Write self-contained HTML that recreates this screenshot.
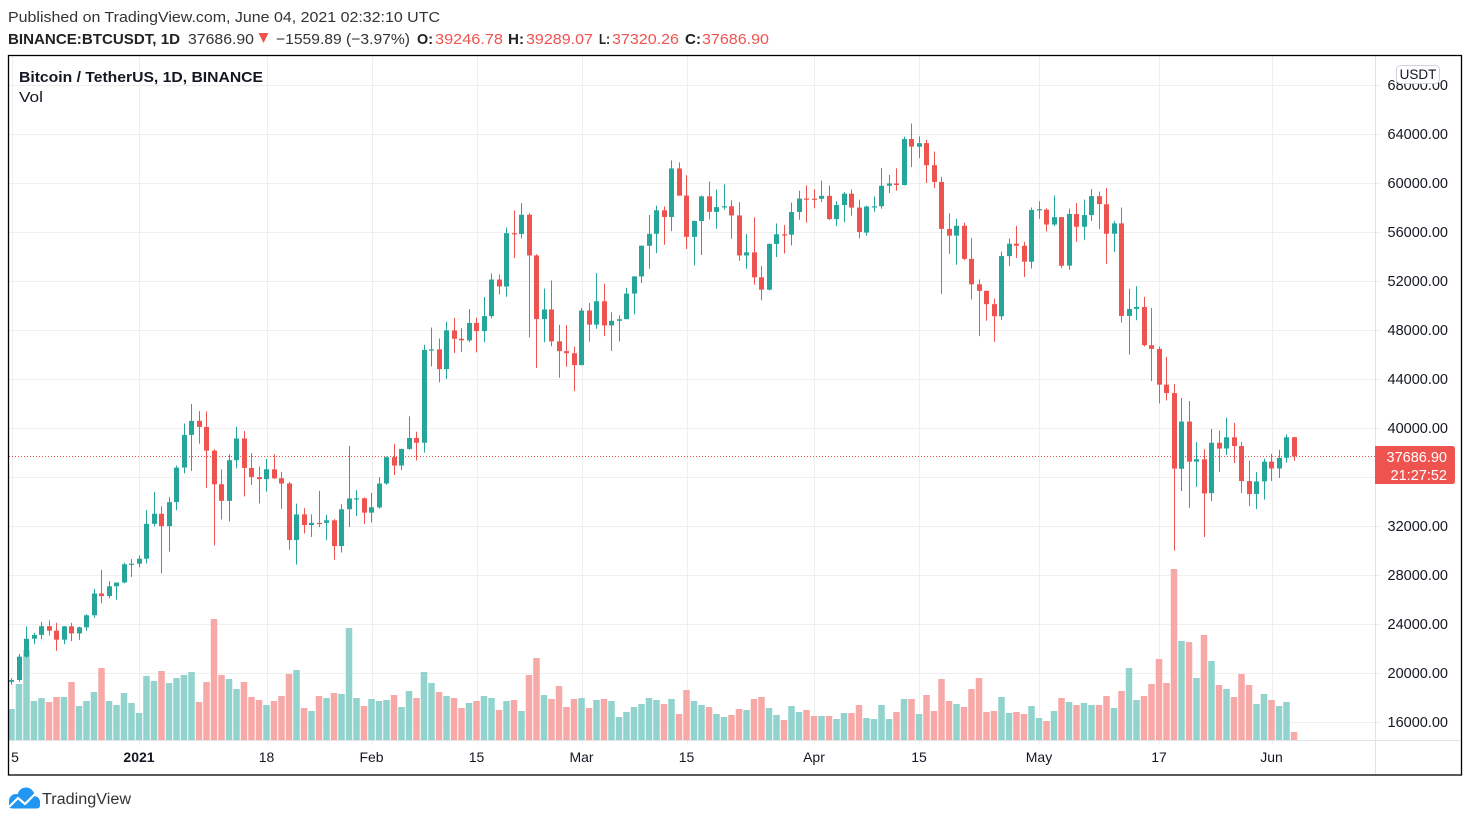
<!DOCTYPE html>
<html><head><meta charset="utf-8">
<style>
html,body{margin:0;padding:0;background:#fff;}
svg{display:block;font-family:"Liberation Sans",Arial,sans-serif;}
</style></head><body>
<svg id="s" width="1470" height="822" viewBox="0 0 1470 822" xmlns="http://www.w3.org/2000/svg">
<rect width="1470" height="822" fill="#fff"/>
<defs><clipPath id="pane"><rect x="9" y="56" width="1366" height="684"/></clipPath></defs>

<!-- header -->
<text x="8" y="22" font-size="15" fill="#333" textLength="432" lengthAdjust="spacingAndGlyphs">Published on TradingView.com, June 04, 2021 02:32:10 UTC</text>
<text x="8" y="44" font-size="15" font-weight="bold" fill="#222" textLength="172" lengthAdjust="spacingAndGlyphs">BINANCE:BTCUSDT, 1D</text>
<text x="188" y="44" font-size="15" fill="#333" textLength="66" lengthAdjust="spacingAndGlyphs">37686.90</text>
<polygon points="258.5,33 268.5,33 263.5,43" fill="#ef5350"/>
<text x="276" y="44" font-size="15" fill="#333" textLength="134" lengthAdjust="spacingAndGlyphs">−1559.89 (−3.97%)</text>
<text x="417" y="44" font-size="15" font-weight="bold" fill="#222" textLength="16" lengthAdjust="spacingAndGlyphs">O:</text>
<text x="435" y="44" font-size="15" fill="#ef5350" textLength="68" lengthAdjust="spacingAndGlyphs">39246.78</text>
<text x="508" y="44" font-size="15" font-weight="bold" fill="#222" textLength="16" lengthAdjust="spacingAndGlyphs">H:</text>
<text x="526" y="44" font-size="15" fill="#ef5350" textLength="67" lengthAdjust="spacingAndGlyphs">39289.07</text>
<text x="599" y="44" font-size="15" font-weight="bold" fill="#222" textLength="11" lengthAdjust="spacingAndGlyphs">L:</text>
<text x="612" y="44" font-size="15" fill="#ef5350" textLength="67" lengthAdjust="spacingAndGlyphs">37320.26</text>
<text x="685" y="44" font-size="15" font-weight="bold" fill="#222" textLength="16" lengthAdjust="spacingAndGlyphs">C:</text>
<text x="702" y="44" font-size="15" fill="#ef5350" textLength="67" lengthAdjust="spacingAndGlyphs">37686.90</text>

<!-- grid -->
<g id="grid" stroke="#efefef" stroke-width="1"></g>
<!-- volume -->
<g id="vol" clip-path="url(#pane)"></g>
<!-- last price line -->
<line x1="9" y1="456.5" x2="1375" y2="456.5" stroke="#ef5350" stroke-width="1" stroke-dasharray="1 2"/>
<!-- candles -->
<g id="cdl" clip-path="url(#pane)"></g>

<!-- axes separators -->
<line x1="1375.5" y1="56" x2="1375.5" y2="775" stroke="#e0e3eb" stroke-width="1"/>
<line x1="9" y1="740.5" x2="1461" y2="740.5" stroke="#e0e3eb" stroke-width="1"/>

<!-- price labels -->
<g font-size="14.5" fill="#131722" text-anchor="end">
<text x="1448" y="90">68000.00</text>
<text x="1448" y="139">64000.00</text>
<text x="1448" y="188">60000.00</text>
<text x="1448" y="237">56000.00</text>
<text x="1448" y="286">52000.00</text>
<text x="1448" y="335">48000.00</text>
<text x="1448" y="384">44000.00</text>
<text x="1448" y="433">40000.00</text>
<text x="1448" y="531">32000.00</text>
<text x="1448" y="580">28000.00</text>
<text x="1448" y="629">24000.00</text>
<text x="1448" y="678">20000.00</text>
<text x="1448" y="727">16000.00</text>
</g>
<!-- USDT box -->
<rect x="1396.5" y="65.5" width="43" height="18" rx="4" fill="#fff" stroke="#d1d4dc"/>
<text x="1418" y="79" font-size="13.5" fill="#131722" text-anchor="middle">USDT</text>
<!-- last price box -->
<path d="M1375 446 H1452 Q1455 446 1455 449 V481 Q1455 484 1452 484 H1375 Z" fill="#ef5350"/>
<text x="1447" y="462" font-size="14.5" fill="#fff" text-anchor="end">37686.90</text>
<text x="1447" y="480" font-size="14.5" fill="#fff" text-anchor="end">21:27:52</text>

<!-- time labels -->
<g font-size="14" fill="#131722" text-anchor="middle">
<text x="15" y="762">5</text>
<text x="139" y="762" font-weight="bold">2021</text>
<text x="266.5" y="762">18</text>
<text x="371.5" y="762">Feb</text>
<text x="476.5" y="762">15</text>
<text x="581.5" y="762">Mar</text>
<text x="686.5" y="762">15</text>
<text x="814" y="762">Apr</text>
<text x="919" y="762">15</text>
<text x="1039" y="762">May</text>
<text x="1159" y="762">17</text>
<text x="1271.5" y="762">Jun</text>
</g>

<!-- titles in pane -->
<text x="19" y="82" font-size="15" font-weight="bold" fill="#131722" textLength="244" lengthAdjust="spacingAndGlyphs">Bitcoin / TetherUS, 1D, BINANCE</text>
<text x="19" y="102" font-size="15" fill="#131722" textLength="24" lengthAdjust="spacingAndGlyphs">Vol</text>

<!-- frame -->
<rect x="8.5" y="55.5" width="1453" height="719.5" fill="none" stroke="#000" stroke-width="1.3"/>

<!-- logo -->
<g>
<circle cx="16" cy="801" r="7" fill="#2196f3"/>
<circle cx="26" cy="796" r="8.5" fill="#2196f3"/>
<circle cx="34" cy="802" r="6" fill="#2196f3"/>
<rect x="9" y="801" width="31" height="7.5" rx="3" fill="#2196f3"/>
<polyline points="10,806 18,798 25,804 34,795" fill="none" stroke="#fff" stroke-width="2.2" stroke-linejoin="round" stroke-linecap="round"/>
</g>
<text x="42" y="804" font-size="15.5" fill="#333" textLength="89" lengthAdjust="spacingAndGlyphs">TradingView</text>
</svg>
<script>
const D=[
[19273,19570,19050,19426],[19426,21560,19278,21335],[21335,23800,21230,22797],[22797,23285,22350,23107],[23107,24171,22750,23821],[23821,24295,23060,23455],[23455,24102,21815,22719],[22719,23837,22353,23811],[23811,24100,22600,23232],[23232,23789,22703,23729],[23729,24789,23433,24712],[24712,26867,24500,26493],[26493,28422,25700,26281],[26281,27500,26101,27080],[27080,27370,25987,27385],[27385,28999,27320,28876],[28876,29300,27850,28923],
[28923,29600,28624,29331],[29331,33300,28946,32178],[32176,34778,31962,33000],[33000,33600,28130,31988],[31989,34360,29900,33949],[33950,36939,33288,36769],[36769,40365,36300,39432],[39432,41950,36500,40582],[40586,41380,38720,40088],[40088,41350,35111,38150],[38150,38264,30420,35404],[35410,36628,32531,34051],[34049,37850,32380,37371],[37371,40100,36701,39144],[39145,39747,34408,36742],[36737,37950,35357,35994],[35994,36852,33850,35828],[35824,37469,34800,36631],[36622,37850,35844,35891],[35901,36415,33400,35468],[35468,35600,30071,30850],[30851,33826,28850,32945],[32950,33456,31390,32078],[32078,32944,31106,32259],[32259,34875,31910,32254],[32254,32921,30837,32467],[32464,32557,29241,30366],[30362,33783,29842,33364],[33368,38531,31915,34252],[34246,34933,32825,34262],[34262,34342,32171,33092],
[33092,34717,32296,33526],[33518,35984,33418,35466],[35472,37662,35362,37618],[37620,38708,36161,36936],[36936,38310,36570,38290],[38290,40955,38215,39186],[39181,39700,37351,38795],[38795,46794,37988,46374],[46374,48200,45020,46420],[46420,47310,43727,44807],[44807,48678,43994,47969],[47969,48985,46125,47287],[47288,48150,46202,47153],[47153,49707,47014,48577],[48580,49010,46174,47911],[47911,50689,47003,49133],[49134,52618,48947,52119],[52118,52530,50901,51552],[51552,56368,50710,55906],[55906,57767,53863,55841],[55841,58352,55477,57408],[57413,57534,47400,54087],[54087,54183,44892,48891],[48891,51375,47003,49676],[49676,52041,46674,47073],[47073,48424,44106,46276],[46277,48394,45000,46107],[46103,46638,43000,45135],
[45134,49790,45115,49587],[49595,50200,47047,48440],[48437,52640,48100,50349],[50349,51773,47500,48374],[48374,49448,46300,48751],[48747,49200,47070,48882],[48883,51450,48882,50971],[50972,52402,49274,52375],[52375,54895,51845,54884],[54874,57387,53005,55851],[55851,58150,54272,57773],[57773,58081,54962,57221],[57222,61844,56078,61188],[61188,61683,58966,58968],[58976,60633,54600,55605],[55605,56938,53271,56900],[56900,58982,54123,58912],[58913,60129,57023,57648],[57641,59468,56270,58030],[58030,59880,57820,58102],[58100,58589,55450,57351],[57351,58430,53650,54083],[54083,55830,53000,54340],[54342,57200,51700,52303],[52304,53229,50427,51293],[51293,55073,51225,55025],[55026,56700,53950,55817],[55818,56559,54242,55777],[55782,58400,54900,57629],[57635,59368,57000,58730],[58730,59800,56769,58720],
[58720,59490,57935,58710],[58710,60200,58428,58950],[58951,59791,56956,57051],[57052,58500,56478,58202],[58202,59253,56795,59129],[59129,59474,57333,57991],[57991,58650,55473,56000],[55954,58153,55700,58079],[58080,58894,57654,58102],[58101,61218,57902,59774],[59775,60658,59177,59964],[59964,61199,59369,59835],[59835,63777,59805,63589],[63589,64854,61301,62971],[62959,63800,62020,63252],[63258,63520,60000,61455],[61455,62572,59580,60087],[60087,60499,50931,56252],[56252,57526,54221,55703],[55703,57076,53329,56508],[56507,56757,53696,53808],[53808,55521,50500,51731],[51731,52130,47500,51195],[51195,51229,48753,50110],[50110,50562,47044,49124],[49121,54400,48806,54033],[54031,55468,53222,55043],[55043,56500,53887,54880],[54880,55200,52330,53580],[53568,58000,53013,57800],
[57800,58500,57075,57858],[57826,57937,56035,56610],[56613,58981,56488,57213],[57214,57214,53046,53242],[53252,57912,52900,57474],[57469,58360,55200,56428],[56428,58650,55382,57381],[57380,59500,56900,58928],[58926,59300,56235,58280],[58263,59592,53400,55859],[55859,56903,54370,56704],[56704,58000,48600,49150],[49150,51367,46000,49717],[49717,51577,48799,49881],[49880,50700,46650,46761],[46762,49800,43825,46456],[46456,46643,42001,43538],[43538,45814,42250,42849],[42849,43600,30000,36690],[36671,42451,34850,40526],[40526,42200,33488,37252],[37253,38856,35200,37449],[37449,38270,31111,34655],[34681,39920,34031,38796],[38796,39791,36419,38324],[38324,40841,37800,39241],[39241,40412,37134,38529],[38529,38877,34684,35664],[35662,37338,33632,34607],[34606,36400,33379,35641],[35641,37499,34153,37253],
[37254,37894,35666,36694],[36694,38225,35920,37568],[37568,39476,37170,39247],[39246.78,39289.07,37320.26,37686.90]
];
const V=[709,684,650,701,698,702,697,697,682,706,701,692,668,701,705,693,703,
713,676,681,671,683,678,675,672,702,682,619,675,679,689,682,697,700,705,701,696,674,670,708,711,696,698,693,694,628,698,706,
699,701,700,695,707,691,698,672,683,692,696,698,708,703,701,696,698,710,701,700,711,675,658,695,699,686,707,699,
698,708,700,699,701,717,712,707,704,698,700,704,699,714,690,701,705,707,714,717,715,709,710,699,697,708,715,720,706,712,710,
716,716,716,719,713,713,705,718,719,705,719,712,699,699,714,695,711,679,701,704,707,689,678,712,711,697,713,712,714,706,
718,721,711,698,702,705,703,705,705,696,708,691,668,700,696,684,659,683,569,641,642,678,635,661,685,689,697,674,685,704,694,
700,706,702,732];
const ns="http://www.w3.org/2000/svg";
function el(p,t,a){const e=document.createElementNS(ns,t);for(const k in a)e.setAttribute(k,a[k]);p.appendChild(e);return e;}
const Y=p=>428-(p-40000)*0.01225;
const cg=document.getElementById('cdl'),vg=document.getElementById('vol'),gg=document.getElementById('grid');
for(let p=16000;p<=68000;p+=4000){const y=Math.round(Y(p))+0.5;el(gg,'line',{x1:9,x2:1381,y1:y,y2:y});}
[11.5,139,266.5,371.5,476.5,581.5,686.5,814,919,1039,1159,1271.5].forEach(x=>{x=Math.round(x)+0.5;el(gg,'line',{x1:x,x2:x,y1:56,y2:745});});
D.forEach((d,i)=>{
 const cx=11.5+7.5*i;const up=d[3]>=d[0];const c=up?'#26a69a':'#ef5350';
 el(vg,'rect',{x:cx-3.25,y:V[i],width:6.5,height:740-V[i],fill:up?'#92d3cd':'#f7a9a7'});
 const yo=Y(d[0]),yc=Y(d[3]),yh=Y(d[1]),yl=Y(d[2]);
 const bx=Math.round(cx-2.5);
 el(cg,'rect',{x:bx+2,y:yh,width:1,height:Math.max(yl-yh,1),fill:c});
 const t=Math.min(yo,yc),h=Math.max(Math.abs(yo-yc),1.2);
 el(cg,'rect',{x:bx,y:t,width:5,height:h,fill:c});
});
</script>
</body></html>
